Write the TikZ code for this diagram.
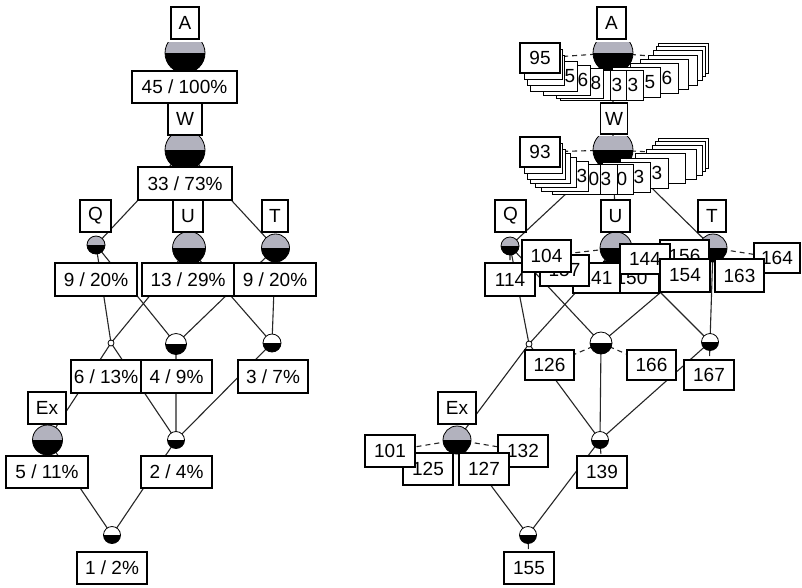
\documentclass[tikz,border=0pt]{standalone}
\usepackage{fontspec}
\setmainfont{Liberation Sans}
\definecolor{cgray}{RGB}{178,178,190}
\pgfdeclarelayer{paper}
\pgfdeclarelayer{edges}
\pgfdeclarelayer{glyphs}
\pgfsetlayers{paper,edges,glyphs,main}
\tikzset{
  lbl/.style={draw, fill=white, line width=1.4pt, inner sep=0pt, font=\fontsize{19}{22}\selectfont},
  fanbox/.style={draw, fill=white, line width=1.4pt, inner sep=0pt, anchor=north west, minimum height=30pt},
  digit/.style={inner sep=0pt, font=\fontsize{19}{22}\selectfont},
  link/.style={line width=1.1pt, draw=black!85},
  objlink/.style={line width=1.1pt, draw=black!85, dash pattern=on 5pt off 4pt},
}
% label box: name, centre, width, height, text
\newcommand{\bx}[5]{\node[lbl, minimum width=#3pt, minimum height=#4pt] (#1) at (#2) {#5};}
% stacked label in a fan: name, left, top, right
\newcommand{\fb}[4]{\node[fanbox, minimum width={(#4-#2)*1pt}] (#1) at (#2,#3) {};}
% visible digit of a stacked label: name, x, y, text
\newcommand{\fd}[4]{\node[digit] (#1) at (#2,#3) {#4};}
% concept circle: centre, radius, colour of upper half
\newcommand{\glyph}[3]{%
  \begin{scope}\clip (#1) ++(-#2-1,-#2-1) rectangle ++(2*#2+2,#2+1);
    \fill[#3] (#1) circle[radius=#2];\end{scope}
  \begin{scope}\clip (#1) ++(-#2-1,0) rectangle ++(2*#2+2,#2+1);
    \fill[black] (#1) circle[radius=#2];\end{scope}
  \draw[line width=0.8pt] (#1) circle[radius=#2];}
% concept circle kept inside a horizontal band: centre, radius, colour,
% offset of the band's top from the centre, band height
\newcommand{\bandglyph}[5]{%
  \begin{scope}\clip (#1) ++(-#2-2,#4) rectangle ++(2*#2+4,#5);
    \glyph{#1}{#2}{#3}\end{scope}}
\begin{document}
\begin{tikzpicture}[x=1pt,y=-1pt]
\begin{pgfonlayer}{paper}
\fill[white] (0,0) rectangle (802,587);
\end{pgfonlayer}
\useasboundingbox (0,0) rectangle (802,587);

% ---------- left lattice: concept centres ----------
\coordinate (gA) at (185,53);
\coordinate (gW) at (185,150);
\coordinate (gQ) at (96,245);
\coordinate (gU) at (189,248);
\coordinate (gT) at (275.5,248);
\coordinate (g6) at (111,343);
\coordinate (g4) at (176,344);
\coordinate (g3) at (272,343);
\coordinate (gEx) at (47.5,440);
\coordinate (g2) at (176,440);
\coordinate (g1) at (112,535);

% ---------- right lattice: concept centres ----------
\coordinate (rA) at (613,53);
\coordinate (rW) at (613,150);
\coordinate (rQ) at (510,246);
\coordinate (rU) at (616,248);
\coordinate (rT) at (713,248);
\coordinate (r6) at (529,344);
\coordinate (r4) at (601,343);
\coordinate (r3) at (710,342);
\coordinate (rEx) at (457,440);
\coordinate (r2) at (600,440);
\coordinate (r1) at (528,535);

% ---------- circles ----------
\begin{pgfonlayer}{glyphs}
\bandglyph{gA}{20}{cgray}{-11}{28}
\bandglyph{gW}{20}{cgray}{-14}{31}
\glyph{gQ}{9}{cgray}
\glyph{gU}{16.5}{cgray}
\glyph{gT}{14}{cgray}
\glyph{g4}{10.5}{white}
\glyph{g3}{9}{white}
\glyph{gEx}{15}{cgray}
\glyph{g2}{8.5}{white}
\glyph{g1}{8.5}{white}
\draw[line width=0.8pt, fill=white] (g6) circle[radius=3];
\bandglyph{rA}{20}{cgray}{-11}{28}
\bandglyph{rW}{20}{cgray}{-14}{30}
\glyph{rQ}{9}{cgray}
\glyph{rU}{16}{cgray}
\glyph{rT}{14}{cgray}
\glyph{r4}{11}{white}
\glyph{r3}{8.5}{white}
\glyph{rEx}{14}{cgray}
\glyph{r2}{8.5}{white}
\glyph{r1}{8.5}{white}
\draw[line width=0.8pt, fill=white] (r6) circle[radius=3];
\end{pgfonlayer}

% ---------- left lattice: labels ----------
\bx{lA}{185,23}{28}{32}{A}
\bx{c45}{184.5,87}{105}{32}{45 / 100\%}
\bx{lW}{185,119}{34}{32}{W}
\bx{c33}{185,183.5}{94}{33}{33 / 73\%}
\bx{lQ}{95.5,216}{31}{32}{Q}
\bx{c9a}{96,279.5}{82}{33}{9 / 20\%}
\bx{lU}{188,216}{30}{32}{U}
\bx{c13}{188,279.5}{92}{33}{13 / 29\%}
\bx{lT}{275,216}{26}{32}{T}
\bx{c9b}{275,279.5}{82}{33}{9 / 20\%}
\bx{c6}{106,376.5}{70}{33}{6 / 13\%}
\bx{c4}{176.5,376.5}{71}{33}{4 / 9\%}
\bx{c3}{273,376.5}{70}{33}{3 / 7\%}
\bx{lEx}{47,408}{38}{32}{Ex}
\bx{c5}{47,472}{82}{32}{5 / 11\%}
\bx{c2}{176.5,472}{71}{32}{2 / 4\%}
\bx{c1}{112,568}{70}{32}{1 / 2\%}

% ---------- right lattice: attribute labels ----------
\bx{mA}{611.5,23}{29}{32}{A}
\bx{mW}{614,118.5}{27}{31}{W}
\bx{mQ}{510.5,216}{31}{32}{Q}
\bx{mU}{615.5,216}{29}{32}{U}
\bx{mT}{712,216}{28}{32}{T}
\bx{mEx}{457,408}{38}{32}{Ex}

% ---------- fan of object labels under A ----------
\fb{af15}{658}{43}{708}
\fb{af14}{656}{46}{705}
\fb{af13}{653}{50}{702}
\fb{af12}{648}{55}{697}
\fb{af11}{640}{59}{688}
\fb{af10}{630}{63}{678}\fd{ad10}{667}{78}{6}
\fb{af9}{612}{67}{660}\fd{ad9}{650}{82}{5}
\fb{af8}{595}{70}{643}\fd{ad8}{633}{85}{3}
\fb{af7}{578}{70}{626}\fd{ad7}{617}{85}{3}
\fb{af6}{560}{70}{610}
\fb{af5}{556}{68}{603}\fd{ad5}{596}{83}{8}
\fb{af4}{543}{65}{590}\fd{ad4}{583}{80}{6}
\fb{af3}{530}{61}{577}\fd{ad3}{570}{76}{5}
\fb{af2}{527}{55}{564}
\fb{af1}{524}{49}{562}
\bx{af0}{540,58}{40}{30}{95}

% ---------- fan of object labels under W ----------
\fb{wf15}{658}{138}{708}
\fb{wf14}{655}{141}{705}
\fb{wf13}{652}{145}{702}
\fb{wf12}{646}{149}{696}
\fb{wf11}{635}{153}{685}
\fb{wf10}{620}{158}{668}\fd{wd10}{657}{173}{3}
\fb{wf9}{602}{162}{650}\fd{wd9}{639}{177}{3}
\fb{wf8}{585}{164}{633}\fd{wd8}{622}{179}{0}
\fb{wf7}{569}{164}{617}\fd{wd7}{606}{179}{3}
\fb{wf6}{552}{164}{600}\fd{wd6}{594}{179}{0}
\fb{wf5}{541}{161}{588}\fd{wd5}{582}{176}{3}
\fb{wf4}{535}{157}{576}
\fb{wf3}{530}{153}{570}
\fb{wf2}{527}{149}{565}
\fb{wf1}{524}{143}{562}
\bx{wf0}{540,152}{40}{30}{93}

% ---------- object labels of the lower concepts ----------
\bx{o156}{684.5,255.5}{49}{31}{156}
\bx{o150}{631.5,277.5}{55}{31}{150}
\bx{o141}{596.5,278}{47}{30}{141}
\bx{o157}{564.5,270.5}{49}{31}{157}
\bx{o114}{510,279.5}{50}{33}{114}
\bx{o104}{546.5,256}{49}{32}{104}
\bx{o144}{645,259}{50}{30}{144}
\bx{o154}{685,275.5}{50}{33}{154}
\bx{o164}{777,258}{46}{30}{164}
\bx{o163}{739.5,275.5}{49}{33}{163}
\bx{o126}{549.5,365}{49}{30}{126}
\bx{o166}{651.5,365}{49}{30}{166}
\bx{o167}{709,375}{50}{30}{167}
\bx{o125}{428,469}{50}{32}{125}
\bx{o101}{390,451}{50}{32}{101}
\bx{o132}{523,451}{50}{32}{132}
\bx{o127}{484,469}{50}{32}{127}
\bx{o139}{602,472}{50}{32}{139}
\bx{o155}{529,568}{50}{32}{155}

% ---------- lattice lines ----------
\begin{pgfonlayer}{edges}
\draw[link] (gA)--(gW) (gW)--(gQ) (gW)--(gU) (gW)--(gT)
  (gQ)--(g6) (gQ)--(g4) (gU)--(g6) (gU)--(g3) (gT)--(g4) (gT)--(g3)
  (g6)--(gEx) (g6)--(g2) (g4)--(g2) (g3)--(g2) (gEx)--(g1) (g2)--(g1);
\draw[link] (rA)--(rW) (rW)--(rQ) (rW)--(rU) (rW)--(rT)
  (rQ)--(r6) (rQ)--(r4) (rU)--(r6) (rU)--(r3) (rT)--(r4) (rT)--(r3)
  (r6)--(rEx) (r6)--(r2) (r4)--(r2) (r3)--(r2) (rEx)--(r1) (r2)--(r1);
% concepts to their object labels
\draw[objlink] (rA)--(af0) (rA)--(af15.center) (rW)--(wf0) (rW)--(wf15.center)
  (rQ)--(o114) (rU)--(o104) (rU)--(o144) (rU)--(o156)
  (rT)--(o163) (rT)--(o164) (r4)--(o126) (r4)--(o166) (r3)--(o167)
  (rEx)--(o101) (rEx)--(o125) (rEx)--(o127) (rEx)--(o132)
  (r2)--(o139) (r1)--(o155);
\end{pgfonlayer}
\end{tikzpicture}
\end{document}
